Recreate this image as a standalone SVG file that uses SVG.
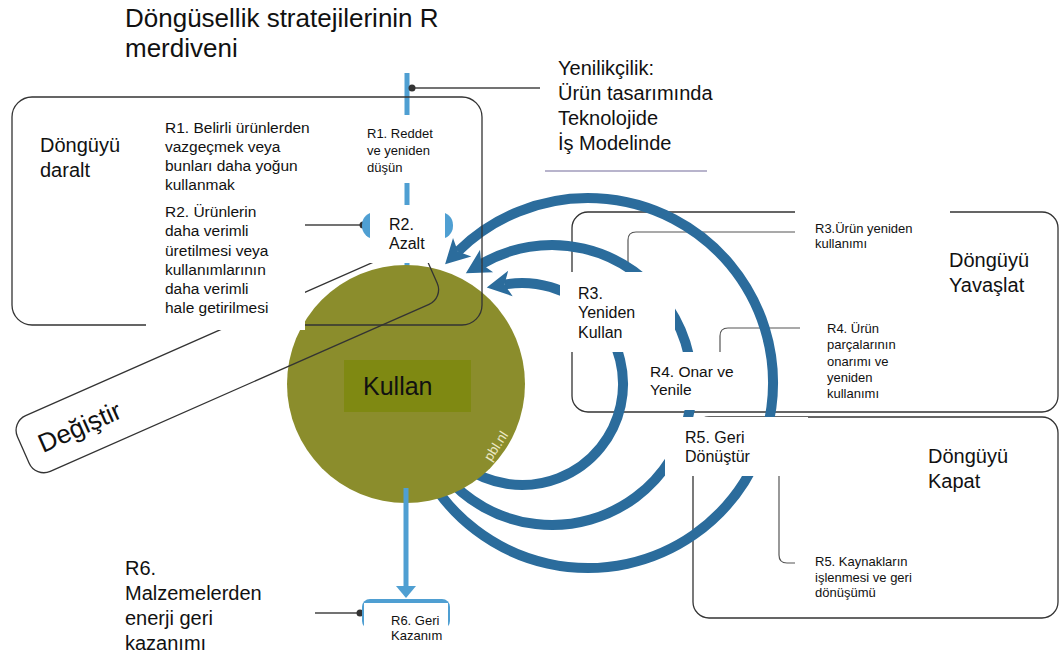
<svg xmlns="http://www.w3.org/2000/svg" width="1060" height="657" viewBox="0 0 1060 657">
<style>
text{font-family:"Liberation Sans",Arial,sans-serif;fill:#111}
.box{fill:none;stroke:#333;stroke-width:1.3}
.brk{fill:none;stroke:#555;stroke-width:1.2}
.wb{fill:#fff}
.arc{fill:none;stroke:#2b6c9c;stroke-width:10}
.lb{stroke:#4f9fd2;stroke-width:5;fill:none}
.lbf{fill:#4f9fd2}
.ln{stroke:#444;stroke-width:1.3}
.dot{fill:#333}
.t13{font-size:13px}.t15{font-size:15.5px}.t16{font-size:16px}.t20{font-size:20px}
</style>
<defs>
<marker id="ah" markerUnits="userSpaceOnUse" markerWidth="30" markerHeight="30" viewBox="-2 -15 30 30" refX="6" refY="0" orient="auto">
<path d="M24 0 L0 -13 L6 0 L0 13 Z" fill="#2b6c9c"/>
</marker>
</defs>

<g id="title">
<text x="125" y="27" style="font-size:26px">Döngüsellik stratejilerinin R</text>
<text x="125" y="57" style="font-size:26px">merdiveni</text>
</g>

<g id="node-yavaslat">
<rect class="box" x="572" y="212" width="486" height="200" rx="16"/>
<path class="brk" d="M795 232 H636 Q628 232 628 240 V300"/>
<path class="brk" d="M800 328 H728 Q720 328 720 336 V400"/>
</g>

<g id="node-kapat">
<rect class="box" x="693" y="417" width="365" height="201" rx="16"/>
<path class="brk" d="M779 476 V555 Q779 563 787 563 H795"/>
</g>

<g id="connectors">
<path class="arc" d="M427.8 475.5 A185 185 0 1 0 457.9 251.5" marker-end="url(#ah)"/>
<path class="arc" d="M444.8 475 A140 140 0 1 0 481.4 264.1" marker-end="url(#ah)"/>
<path class="arc" d="M464.1 466.7 A101 101 0 1 0 504.5 284.5" marker-end="url(#ah)"/>
<line class="lb" x1="407" y1="73" x2="407" y2="205"/>
<line class="lb" x1="407" y1="263" x2="407" y2="278"/>
<polygon class="lbf" points="398,276 416,276 407,289"/>
<line class="ln" x1="412" y1="88" x2="540" y2="88"/>
<circle class="dot" cx="412" cy="88" r="3.5"/>
<line class="ln" x1="305" y1="225" x2="363" y2="225"/>
<circle class="dot" cx="363" cy="225" r="3.5"/>
<line class="ln" x1="315" y1="613" x2="360" y2="613"/>
<circle class="dot" cx="360" cy="613" r="3.5"/>
<line x1="545" y1="171" x2="707" y2="171" stroke="#b8b4cc" stroke-width="2"/>
</g>

<g id="node-kullan">
<circle cx="406" cy="384" r="119" fill="#8b8d2c"/>
<rect x="344" y="360" width="127" height="52" fill="#7f8912"/>
<text x="363" y="395" style="font-size:25px">Kullan</text>
<text transform="translate(491,462) rotate(-57)" style="font-size:13.5px;fill:#ece8c4">pbl.nl</text>
<line class="lb" x1="406" y1="488" x2="406" y2="588"/>
<polygon class="lbf" points="396,586 416,586 406,598"/>
</g>

<g id="node-daralt">
<rect class="box" x="12" y="97" width="470" height="228" rx="20"/>
<text class="t20" x="40" y="152">Döngüyü</text>
<text class="t20" x="40" y="177">daralt</text>
</g>

<g id="node-degistir">
<rect class="box" x="0" y="0" width="446" height="61" rx="16" transform="translate(11,422) rotate(-23.8)"/>
<text transform="translate(43,453) rotate(-24)" style="font-size:26px">Değiştir</text>
</g>

<g id="node-r1-text">
<text class="t15" x="165" y="133">R1. Belirli ürünlerden</text>
<text class="t15" x="165" y="152">vazgeçmek veya</text>
<text class="t15" x="165" y="171">bunları daha yoğun</text>
<text class="t15" x="165" y="190">kullanmak</text>
</g>

<g id="node-r2-text">
<rect class="wb" x="146" y="199" width="159" height="131"/>
<text class="t15" x="165" y="217">R2. Ürünlerin</text>
<text class="t15" x="165" y="236">daha verimli</text>
<text class="t15" x="165" y="256">üretilmesi veya</text>
<text class="t15" x="165" y="275">kullanımlarının</text>
<text class="t15" x="165" y="294">daha verimli</text>
<text class="t15" x="165" y="313">hale getirilmesi</text>
</g>

<g id="node-r1">
<rect class="wb" x="360" y="115" width="95" height="68"/>
<text class="t13" x="367" y="138">R1. Reddet</text>
<text class="t13" x="367" y="155">ve yeniden</text>
<text class="t13" x="367" y="172">düşün</text>
</g>

<g id="node-r2">
<rect class="lbf" x="362" y="212" width="91" height="27" rx="13"/>
<rect class="wb" x="370" y="205" width="75" height="58"/>
<text class="t16" x="389" y="230">R2.</text>
<text class="t16" x="389" y="249">Azalt</text>
</g>

<g id="node-innovation">
<text class="t20" x="558" y="75">Yenilikçilik:</text>
<text class="t20" x="558" y="100">Ürün tasarımında</text>
<text class="t20" x="558" y="125">Teknolojide</text>
<text class="t20" x="558" y="150">İş Modelinde</text>
</g>

<g id="node-r3">
<rect class="wb" x="560" y="272" width="115" height="80"/>
<text class="t16" x="578" y="299">R3.</text>
<text class="t16" x="578" y="318">Yeniden</text>
<text class="t16" x="578" y="338">Kullan</text>
</g>

<g id="node-r3-text">
<rect class="wb" x="795" y="205" width="155" height="57"/>
<text class="t13" x="815" y="233">R3.Ürün yeniden</text>
<text class="t13" x="815" y="248">kullanımı</text>
</g>

<g id="node-yavaslat-label">
<text class="t20" x="949" y="267">Döngüyü</text>
<text class="t20" x="949" y="292">Yavaşlat</text>
</g>

<g id="node-r4">
<rect class="wb" x="630" y="352" width="118" height="58"/>
<text class="t15" x="650" y="377">R4. Onar ve</text>
<text class="t15" x="650" y="395">Yenile</text>
</g>

<g id="node-r4-text">
<rect class="wb" x="808" y="313" width="115" height="98"/>
<text class="t13" x="827" y="333">R4. Ürün</text>
<text class="t13" x="827" y="349">parçalarının</text>
<text class="t13" x="827" y="366">onarımı ve</text>
<text class="t13" x="827" y="382">yeniden</text>
<text class="t13" x="827" y="398">kullanımı</text>
</g>

<g id="node-r5">
<rect class="wb" x="665" y="417" width="143" height="59"/>
<text class="t16" x="685" y="443">R5. Geri</text>
<text class="t16" x="685" y="462">Dönüştür</text>
</g>

<g id="node-kapat-label">
<text class="t20" x="928" y="463">Döngüyü</text>
<text class="t20" x="928" y="488">Kapat</text>
</g>

<g id="node-r5-text">
<text class="t13" x="815" y="566">R5. Kaynakların</text>
<text class="t13" x="815" y="582">işlenmesi ve geri</text>
<text class="t13" x="815" y="597">dönüşümü</text>
</g>

<g id="node-r6-text">
<text class="t20" x="125" y="575">R6.</text>
<text class="t20" x="125" y="600">Malzemelerden</text>
<text class="t20" x="125" y="625">enerji geri</text>
<text class="t20" x="125" y="650">kazanımı</text>
</g>

<g id="node-r6">
<rect class="lbf" x="362" y="599" width="88" height="30" rx="8"/>
<rect class="wb" x="364" y="603" width="84" height="54"/>
<text class="t13" x="391" y="625">R6. Geri</text>
<text class="t13" x="391" y="640">Kazanım</text>
</g>
</svg>
